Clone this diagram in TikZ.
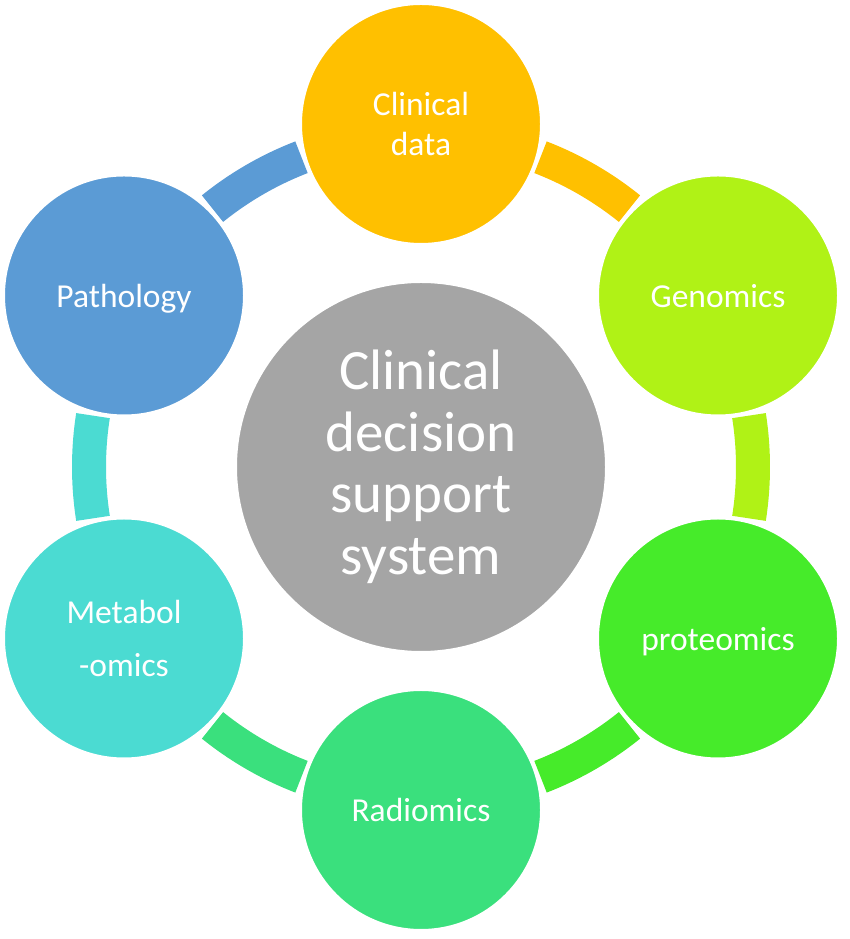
\documentclass[tikz,border=0pt]{standalone}
\usepackage{fontspec}
\setmainfont{Carlito}
\definecolor{cClin}{RGB}{255,192,0}
\definecolor{cGen}{RGB}{176,242,22}
\definecolor{cProt}{RGB}{70,235,42}
\definecolor{cRad}{RGB}{58,224,125}
\definecolor{cMet}{RGB}{75,219,210}
\definecolor{cPath}{RGB}{91,155,213}
\definecolor{cCtr}{RGB}{165,165,165}
\begin{document}
\begin{tikzpicture}[x=1pt,y=1pt,
  sat/.style={circle, minimum size=240pt, inner sep=0pt, draw=white, line width=2pt,
    text=white, align=center, font=\fontsize{33.5}{40}\selectfont, text depth=0pt},
  seg/.style={line width=34pt, line cap=butt}]
\useasboundingbox (0,0) rectangle (850,939);
\coordinate (o) at (421,472);
% ring segments
\draw[seg, cClin] ([shift={(68.9:332)}]o) arc[start angle=68.9, end angle=51.1, radius=332];
\draw[seg, cGen]  ([shift={(8.9:332)}]o) arc[start angle=8.9, end angle=-8.9, radius=332];
\draw[seg, cProt] ([shift={(-51.1:332)}]o) arc[start angle=-51.1, end angle=-68.9, radius=332];
\draw[seg, cRad]  ([shift={(-111.1:332)}]o) arc[start angle=-111.1, end angle=-128.9, radius=332];
\draw[seg, cMet]  ([shift={(-171.1:332)}]o) arc[start angle=-171.1, end angle=-188.9, radius=332];
\draw[seg, cPath] ([shift={(128.9:332)}]o) arc[start angle=128.9, end angle=111.1, radius=332];
% center
\node[circle, minimum size=370pt, inner sep=0pt, fill=cCtr, draw=white, line width=2pt,
  text=white, align=center, font=\fontsize{57}{61.5}\selectfont] (ctr) at (o)
  {Clinical\\decision\\support\\system};
% satellites
\node[sat, fill=cClin] (clin) at (421,815) {Clinical\\data};
\node[sat, fill=cGen]  (gen)  at (718,643.5) {Genomics};
\node[sat, fill=cProt] (prot) at (718,300.5) {proteomics};
\node[sat, fill=cRad]  (rad)  at (421,129) {Radiomics};
\node[sat, fill=cMet]  (met)  at (124,300.5) {Metabol\\[13pt]-omics};
\node[sat, fill=cPath] (path) at (124,643.5) {Pathology};
\end{tikzpicture}
\end{document}
